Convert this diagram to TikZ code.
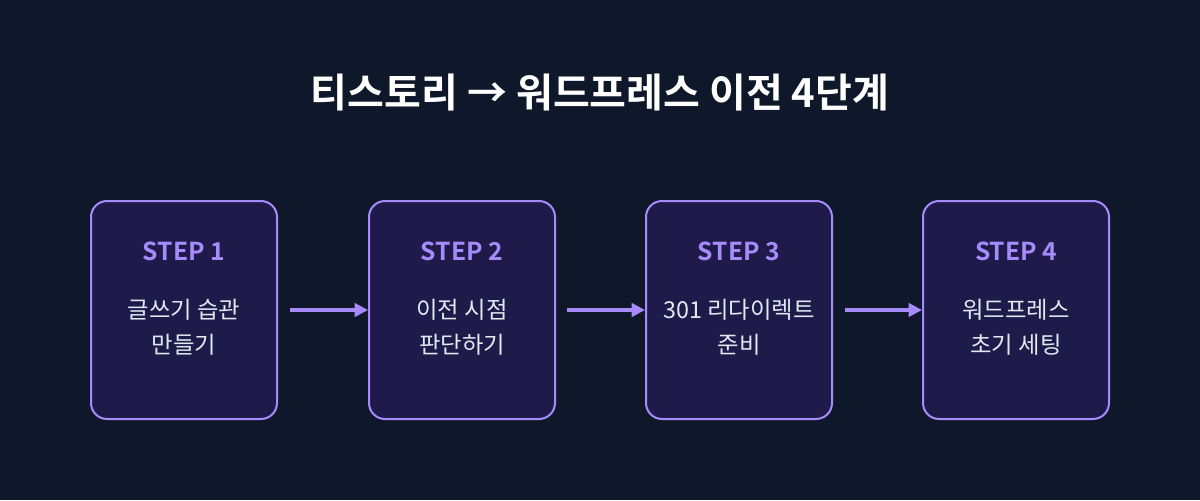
\documentclass[tikz,border=0pt]{standalone}
\usepackage{fontspec}
\setmainfont{Noto Sans CJK KR}[BoldFont={Noto Sans CJK KR Bold}]
\usetikzlibrary{arrows.meta}
\definecolor{bg}{HTML}{0F172A}
\definecolor{boxfill}{HTML}{1E1B4B}
\definecolor{accent}{HTML}{A78BFA}
\definecolor{txt}{HTML}{E2E8F0}
\begin{document}
\begin{tikzpicture}[x=0.75pt,y=-0.75pt,
  stepbox/.style={draw=accent,line width=1.5pt,fill=boxfill,rounded corners=12pt,minimum width=139.5pt,minimum height=163.5pt},
  lbl/.style={text=accent,font=\bfseries\fontsize{18.5}{22}\selectfont},
  body/.style={text=txt,font=\fontsize{17.5}{26}\selectfont,align=center},
  arr/.style={draw=accent,line width=2.4pt,-{Triangle[length=10pt,width=10pt]}}]
\fill[bg] (0,0) rectangle (1200,500);
\useasboundingbox (0,0) rectangle (1200,500);
\node[text=white,font=\bfseries\fontsize{30}{36}\selectfont] (title) at (600,93) {티스토리 → 워드프레스 이전 4단계};
\foreach \i/\x/\t in {1/184/{글쓰기 습관\\만들기},2/462/{이전 시점\\판단하기},3/739/{301 리다이렉트\\준비},4/1016/{워드프레스\\초기 세팅}}{
  \node[stepbox] (b\i) at (\x,310) {};
  \node[lbl] (s\i) at (\x,251) {STEP \i};
  \node[body] (t\i) at (\x,327) {\t};
}
\coordinate (a1) at (290,310); \coordinate (a2) at (567,310); \coordinate (a3) at (845,310);
\draw[arr] (a1) -- (b2.west);
\draw[arr] (a2) -- (b3.west);
\draw[arr] (a3) -- (b4.west);
\end{tikzpicture}
\end{document}
